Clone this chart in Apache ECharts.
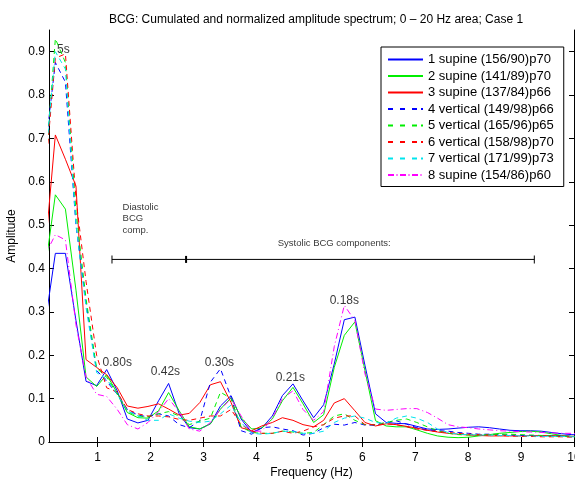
<!DOCTYPE html>
<html>
<head>
<meta charset="utf-8">
<script src="https://cdn.jsdelivr.net/npm/echarts@6/dist/echarts.min.js"></script>
<style>
    html, body { margin: 0; padding: 0; background: #fff; }
    #chart { width: 575px; height: 480px; }
</style>
</head>
<body>
<div id="chart"></div>
<script>
// frequency bins (Hz)
const freqs = [
    0, 0.2, 0.39, 0.59, 0.78, 0.98, 1.17, 1.37, 1.56, 1.76,
    1.95, 2.15, 2.34, 2.54, 2.73, 2.93, 3.13, 3.32, 3.52, 3.71,
    3.91, 4.1, 4.3, 4.49, 4.69, 4.88, 5.08, 5.27, 5.47, 5.66,
    5.86, 6.05, 6.25, 6.45, 6.64, 6.84, 7.03, 7.23, 7.42, 7.62,
    7.81, 8.01, 8.2, 8.4, 8.59, 8.79, 8.98, 9.18, 9.38, 9.57,
    9.77, 9.96, 10.16
]

const names = [
    '1 supine (156/90)p70',
    '2 supine (141/89)p70',
    '3 supine (137/84)p66',
    '4 vertical (149/98)p66',
    '5 vertical (165/96)p65',
    '6 vertical (158/98)p70',
    '7 vertical (171/99)p73',
    '8 supine (154/86)p60'
]

const supine1 = [
    0.268, 0.435, 0.435, 0.28, 0.14, 0.13, 0.167, 0.118, 0.053, 0.044,
    0.05, 0.095, 0.135, 0.065, 0.033, 0.03, 0.042, 0.083, 0.107, 0.053,
    0.022, 0.032, 0.06, 0.107, 0.134, 0.095, 0.056, 0.086, 0.18, 0.282,
    0.288, 0.177, 0.065, 0.045, 0.043, 0.042, 0.036, 0.03, 0.029, 0.03,
    0.032, 0.034, 0.035, 0.033, 0.03, 0.027, 0.026, 0.026, 0.025, 0.022,
    0.019, 0.017, 0.016
]
const supine2 = [
    0.393, 0.57, 0.537, 0.35, 0.15, 0.128, 0.155, 0.113, 0.068, 0.056,
    0.055, 0.072, 0.114, 0.072, 0.035, 0.03, 0.042, 0.076, 0.102, 0.056,
    0.03, 0.032, 0.053, 0.095, 0.126, 0.088, 0.045, 0.063, 0.172, 0.246,
    0.277, 0.165, 0.049, 0.037, 0.035, 0.035, 0.028, 0.02, 0.014, 0.011,
    0.01, 0.011, 0.014, 0.017, 0.02, 0.022, 0.024, 0.025, 0.023, 0.019,
    0.015, 0.013, 0.012
]
const supine3 = [
    0.432, 0.708, 0.652, 0.59, 0.19, 0.172, 0.155, 0.125, 0.083, 0.078,
    0.082, 0.088, 0.076, 0.062, 0.066, 0.091, 0.132, 0.139, 0.091, 0.033,
    0.026, 0.037, 0.045, 0.056, 0.05, 0.04, 0.035, 0.05, 0.09, 0.1,
    0.072, 0.045, 0.037, 0.042, 0.04, 0.036, 0.032, 0.027, 0.023, 0.02,
    0.018, 0.016, 0.015, 0.014, 0.014, 0.014, 0.014, 0.015, 0.015, 0.015,
    0.014, 0.013, 0.013
]
const vertical4 = [
    0.663, 0.875, 0.83, 0.5, 0.32, 0.165, 0.14, 0.11, 0.075, 0.062,
    0.058, 0.065, 0.06, 0.04, 0.033, 0.049, 0.138, 0.169, 0.103, 0.026,
    0.018, 0.033, 0.035, 0.03, 0.026, 0.016, 0.02, 0.033, 0.041, 0.039,
    0.045, 0.039, 0.039, 0.045, 0.049, 0.041, 0.033, 0.028, 0.026, 0.025,
    0.022, 0.02, 0.018, 0.018, 0.017, 0.016, 0.015, 0.015, 0.014, 0.014,
    0.014, 0.013, 0.013
]
const vertical5 = [
    0.605, 0.93, 0.875, 0.53, 0.33, 0.17, 0.15, 0.11, 0.07, 0.06,
    0.058, 0.065, 0.07, 0.06, 0.04, 0.048, 0.055, 0.115, 0.1, 0.035,
    0.022, 0.02, 0.02, 0.025, 0.023, 0.02, 0.022, 0.04, 0.06, 0.065,
    0.05, 0.04, 0.04, 0.045, 0.05, 0.053, 0.045, 0.035, 0.026, 0.02,
    0.017, 0.016, 0.016, 0.017, 0.018, 0.018, 0.017, 0.016, 0.015, 0.014,
    0.013, 0.012, 0.012
]
const vertical6 = [
    0.605, 0.885, 0.895, 0.56, 0.37, 0.2, 0.125, 0.115, 0.075, 0.065,
    0.06, 0.06, 0.058, 0.052, 0.05, 0.055, 0.06, 0.06, 0.075, 0.04,
    0.025, 0.02, 0.02, 0.025, 0.02, 0.025, 0.035, 0.04, 0.055, 0.06,
    0.06, 0.04, 0.04, 0.042, 0.04, 0.035, 0.03, 0.027, 0.024, 0.022,
    0.02, 0.018, 0.017, 0.016, 0.015, 0.014, 0.013, 0.013, 0.012, 0.012,
    0.012, 0.011, 0.011
]
const vertical7 = [
    0.629, 0.9, 0.86, 0.5, 0.31, 0.16, 0.145, 0.11, 0.072, 0.06,
    0.05, 0.05, 0.065, 0.055, 0.048, 0.045, 0.048, 0.065, 0.085, 0.045,
    0.02, 0.018, 0.02, 0.025, 0.024, 0.02, 0.02, 0.025, 0.045, 0.055,
    0.06, 0.055, 0.045, 0.043, 0.055, 0.06, 0.055, 0.045, 0.03, 0.022,
    0.018, 0.017, 0.016, 0.016, 0.015, 0.015, 0.014, 0.014, 0.013, 0.013,
    0.013, 0.012, 0.012
]
const supine8 = [
    0.43, 0.478, 0.466, 0.27, 0.15, 0.11, 0.105, 0.075, 0.04, 0.03,
    0.045, 0.07, 0.1, 0.07, 0.03, 0.025, 0.045, 0.075, 0.1, 0.06,
    0.025, 0.025, 0.055, 0.1, 0.118, 0.075, 0.05, 0.07, 0.22, 0.315,
    0.28, 0.157, 0.076, 0.073, 0.075, 0.077, 0.077, 0.068, 0.055, 0.04,
    0.035, 0.033, 0.03, 0.028, 0.026, 0.025, 0.024, 0.023, 0.022, 0.021,
    0.02, 0.02, 0.019
]

const seriesValues = [supine1, supine2, supine3, vertical4, vertical5, vertical6, vertical7, supine8]
const colors = ['#0000ff', '#00ee00', '#ff0000', '#0000ff', '#00ee00', '#ff0000', '#00e5ee', '#ff00ff']
const dashes = ['solid', 'solid', 'solid', [5, 4], [5, 4], [5, 4], [5, 4], [6, 3, 1, 3]]

// legend samples: pieces of a 35px line (solid, dashed, dash-dot)
const solidSegs = [[0, 35]]
const dashSegs = [[0, 5], [12, 17], [24, 29], [33, 35]]
const dashDotSegs = [[0, 6], [8.5, 9.5], [12, 18], [20.5, 21.5], [24, 30], [32.5, 33.5]]
const legendSegs = [solidSegs, solidSegs, solidSegs, dashSegs, dashSegs, dashSegs, dashSegs, dashDotSegs]

// axis ticks
const xTicks = [1, 2, 3, 4, 5, 6, 7, 8, 9, 10]
const yTicks = [0, 0.1, 0.2, 0.3, 0.4, 0.5, 0.6, 0.7, 0.8, 0.9]

// period labels on the peaks
const peakLabels = ['5s', '0.80s', '0.42s', '0.30s', '0.21s', '0.18s']
const peakX = [0.35, 1.37, 2.28, 3.30, 4.64, 5.66]
const peakY = [0.905, 0.182, 0.161, 0.184, 0.148, 0.325]

// diastolic / systolic bracket
const bracketX = [1.27, 2.67, 9.25]
const bracketY = 0.421
const noteText = ['Diastolic\nBCG\ncomp.', 'Systolic BCG components:']
const noteX = [1.47, 5.47]
const noteY = [0.5145, 0.4585]

const font = 'Liberation Sans, Arial, Helvetica, sans-serif'

// icon path 35x12, a 2px line through the middle
function legendIcon(segs) {
    let d = 'path://M0,0L0,0M35,12L35,12'
    segs.forEach(s => {
        d += 'M' + s[0] + ',5H' + s[1] + 'V7H' + s[0] + 'Z'
    })
    return d
}

const chart = echarts.init(document.getElementById('chart'), null, { renderer: 'canvas' })

const lineSeries = seriesValues.map((vals, i) => ({
    name: names[i],
    type: 'line',
    data: vals.map((v, k) => [freqs[k], v]),
    symbol: 'none',
    clip: true,
    lineStyle: { color: colors[i], width: 1, type: dashes[i] },
    itemStyle: { color: colors[i] }
}))

const option = {
    animation: false,
    backgroundColor: '#fff',
    textStyle: { fontFamily: font },
    title: {
        text: 'BCG: Cumulated and normalized amplitude spectrum; 0 \u2013 20 Hz area; Case 1',
        left: 311,
        top: 9,
        textAlign: 'center',
        textStyle: { fontSize: 12, fontWeight: 'normal', color: '#000', fontFamily: font }
    },
    legend: {
        data: names.map((n, i) => ({
            name: n,
            icon: legendIcon(legendSegs[i]),
            itemStyle: { color: colors[i], borderWidth: 0 }
        })),
        orient: 'vertical',
        left: 381,
        top: 47,
        padding: [6, 10, 5, 7],
        itemWidth: 35,
        itemHeight: 12,
        itemGap: 3.5,
        backgroundColor: '#fff',
        borderColor: '#000',
        borderWidth: 1,
        borderRadius: 0,
        selectedMode: false,
        textStyle: { fontSize: 13, color: '#000', fontFamily: font }
    },
    grid: { left: 49, right: 1, top: 30, bottom: 38, outerBoundsMode: 'none' },
    xAxis: [{
        type: 'value',
        min: 0.08,
        max: 10,
        name: 'Frequency (Hz)',
        nameLocation: 'middle',
        nameGap: 25,
        nameMoveOverlap: false,
        nameTextStyle: { fontSize: 12, color: '#000', fontFamily: font },
        axisLine: { lineStyle: { color: '#000', width: 1 } },
        axisTick: { inside: true, length: 5, customValues: xTicks, lineStyle: { color: '#000' } },
        axisLabel: { customValues: xTicks, margin: 10, fontSize: 12, color: '#000', fontFamily: font },
        splitLine: { show: false }
    }, {
        type: 'value',
        position: 'top',
        min: 0.08,
        max: 10,
        axisLine: { lineStyle: { color: '#000', width: 1 } },
        axisTick: { inside: true, length: 5, customValues: xTicks, lineStyle: { color: '#000' } },
        axisLabel: { show: false },
        splitLine: { show: false }
    }],
    yAxis: [{
        type: 'value',
        min: 0,
        max: 0.95,
        name: 'Amplitude',
        nameLocation: 'middle',
        nameGap: 31,
        nameMoveOverlap: false,
        nameRotate: 90,
        nameTextStyle: { fontSize: 12, color: '#000', fontFamily: font },
        axisLine: { lineStyle: { color: '#000', width: 1 } },
        axisTick: { inside: true, length: 5, customValues: yTicks, lineStyle: { color: '#000' } },
        axisLabel: { customValues: yTicks, margin: 4, fontSize: 12, color: '#000', fontFamily: font },
        splitLine: { show: false }
    }, {
        type: 'value',
        position: 'right',
        min: 0,
        max: 0.95,
        axisLine: { show: true, lineStyle: { color: '#000', width: 1 } },
        axisTick: { show: true, inside: true, length: 5, customValues: yTicks, lineStyle: { color: '#000' } },
        axisLabel: { show: false },
        splitLine: { show: false }
    }],
    series: lineSeries.concat([
        {
            name: 'bracket',
            type: 'line',
            data: bracketX.map((x, i) => ({
                value: [x, bracketY],
                symbolSize: i === 1 ? [2, 7] : [1, 8]
            })),
            symbol: 'rect',
            lineStyle: { color: '#000', width: 1 },
            itemStyle: { color: '#000' },
            silent: true
        },
        {
            name: 'peaks',
            type: 'scatter',
            data: peakLabels.map((t, i) => [peakX[i], peakY[i], t]),
            symbolSize: 0,
            silent: true,
            label: {
                show: true,
                position: 'inside',
                formatter: p => p.value[2],
                fontSize: 12,
                color: '#000',
                fontFamily: font
            }
        },
        {
            name: 'notes',
            type: 'scatter',
            data: noteText.map((t, i) => ({
                value: [noteX[i], noteY[i], t],
                // the diastolic note is left aligned
                label: { align: i === 0 ? 'left' : 'center' }
            })),
            symbolSize: 0,
            silent: true,
            label: {
                show: true,
                position: 'inside',
                formatter: p => p.value[2],
                fontSize: 9.5,
                lineHeight: 11.7,
                color: '#000',
                fontFamily: font
            }
        }
    ])
}

chart.setOption(option)
</script>
</body>
</html>
